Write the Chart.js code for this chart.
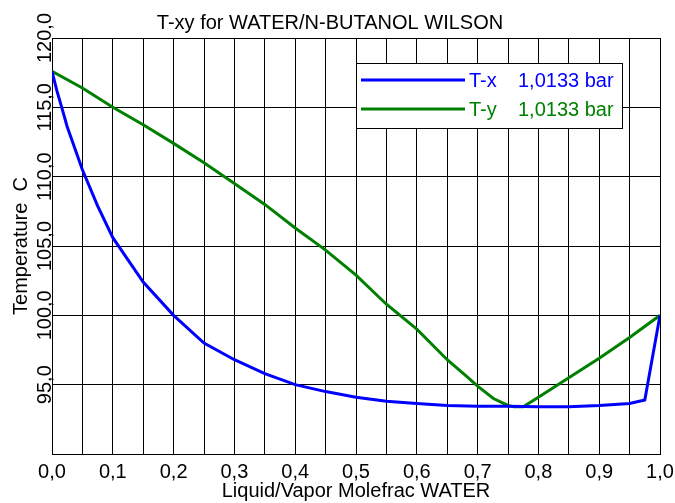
<!DOCTYPE html>
<html lang="en">
<head>
    <meta charset="UTF-8">
    <script src="https://cdn.jsdelivr.net/npm/chart.js"></script>
    <title>T-xy WATER/N-BUTANOL</title>
    <style>
        html, body { margin: 0; padding: 0; background: #fff; }
        #wrap { width: 675px; height: 503px; }
    </style>
</head>
<body>
    <div id="wrap"><canvas id="txyChart"></canvas></div>

    <script>
        // T-x curve (liquid)
        const liqWater = [0, 0.008, 0.016, 0.025, 0.05, 0.075, 0.1, 0.15, 0.2, 0.25, 0.3, 0.35, 0.4, 0.45, 0.5, 0.55, 0.6, 0.65, 0.7, 0.75, 0.8, 0.85, 0.9, 0.95, 0.975, 1.0];
        const liqTemp = [117.6, 116.2, 115.0, 113.6, 110.5, 107.9, 105.6, 102.4, 100.0, 98.0, 96.8, 95.8, 95.0, 94.5, 94.1, 93.8, 93.65, 93.5, 93.45, 93.45, 93.4, 93.4, 93.5, 93.65, 93.9, 100.0];

        // T-y curve (vapor)
        const vapWater = [0, 0.05, 0.1, 0.15, 0.2, 0.25, 0.3, 0.35, 0.4, 0.45, 0.5, 0.55, 0.6, 0.65, 0.682, 0.7, 0.726, 0.75, 0.76, 0.775, 0.8, 0.85, 0.9, 0.95, 1.0];
        const vapTemp = [117.6, 116.4, 115.0, 113.75, 112.4, 111.0, 109.5, 108.0, 106.3, 104.7, 102.9, 100.8, 99.0, 96.8, 95.6, 94.9, 94.0, 93.5, 93.4, 93.4, 94.1, 95.5, 96.9, 98.4, 100.0];

        const seriesNames = ['T-x', 'T-y'];
        const pressureLabel = '1,0133 bar';
        const yTickValues = [95, 100, 105, 110, 115, 120];

        const FONT = 'Arial, "Liberation Sans", sans-serif';

        function toPoints(xs, ys) {
            return xs.map((x, i) => ({ x: x, y: ys[i] }));
        }

        function fmt(v) {
            return v.toFixed(1).replace('.', ',');
        }

        // rotated y labels + legend box drawn on top
        const txyDecor = {
            id: 'txyDecor',
            afterDraw(chart) {
                const ctx = chart.ctx;
                const yScale = chart.scales.y;
                const area = chart.chartArea;

                ctx.save();
                ctx.fillStyle = '#000';
                ctx.font = '20px ' + FONT;
                ctx.textAlign = 'center';
                ctx.textBaseline = 'alphabetic';
                yTickValues.forEach(v => {
                    const py = yScale.getPixelForValue(v);
                    ctx.save();
                    ctx.translate(area.left - 1, py);
                    ctx.rotate(-Math.PI / 2);
                    ctx.fillText(fmt(v), 0, 0);
                    ctx.restore();
                });

                // legend
                const bx = 356, by = 63, bw = 266, bh = 65;
                ctx.fillStyle = '#fff';
                ctx.fillRect(bx, by, bw, bh);
                ctx.strokeStyle = '#000';
                ctx.lineWidth = 1;
                ctx.strokeRect(bx + 0.5, by + 0.5, bw, bh);

                ctx.textAlign = 'left';
                ctx.textBaseline = 'middle';
                chart.data.datasets.forEach((ds, i) => {
                    const ly = by + 17 + i * 29;
                    ctx.strokeStyle = ds.borderColor;
                    ctx.lineWidth = 3;
                    ctx.beginPath();
                    ctx.moveTo(bx + 5, ly);
                    ctx.lineTo(bx + 109, ly);
                    ctx.stroke();
                    ctx.fillStyle = ds.borderColor;
                    ctx.fillText(seriesNames[i], bx + 113, ly + 1);
                    ctx.fillText(pressureLabel, bx + 162, ly + 1);
                });
                ctx.restore();
            }
        };

        const ctxTxy = document.getElementById('txyChart').getContext('2d');

        const txyChart = new Chart(ctxTxy, {
            type: 'scatter',
            data: {
                datasets: [{
                    label: seriesNames[0],
                    data: toPoints(liqWater, liqTemp),
                    showLine: true,
                    borderColor: 'rgb(0, 0, 255)',
                    backgroundColor: 'rgb(0, 0, 255)',
                    borderWidth: 3,
                    pointRadius: 0,
                    tension: 0
                }, {
                    label: seriesNames[1],
                    data: toPoints(vapWater, vapTemp),
                    showLine: true,
                    borderColor: 'rgb(0, 128, 0)',
                    backgroundColor: 'rgb(0, 128, 0)',
                    borderWidth: 3,
                    pointRadius: 0,
                    tension: 0
                }]
            },
            options: {
                responsive: true,
                maintainAspectRatio: false,
                animation: false,
                layout: {
                    padding: { left: 0, right: 15, top: 0, bottom: 0 }
                },
                plugins: {
                    legend: { display: false },
                    tooltip: { enabled: false },
                    title: {
                        display: true,
                        text: 'T-xy for WATER/N-BUTANOL WILSON',
                        color: '#000',
                        font: { family: FONT, size: 20, weight: 'normal' },
                        padding: { top: 11, bottom: 3 }
                    }
                },
                scales: {
                    x: {
                        type: 'linear',
                        min: 0,
                        max: 1,
                        afterFit(scale) {
                            scale.height = 49;
                            scale.paddingLeft = 0;
                            scale.paddingRight = 0;
                        },
                        border: { display: true, color: '#000', width: 1 },
                        grid: { color: '#000', lineWidth: 1, drawTicks: false },
                        ticks: {
                            stepSize: 0.05,
                            autoSkip: false,
                            maxRotation: 0,
                            padding: 6,
                            color: '#000',
                            font: { family: FONT, size: 20 },
                            callback: v => (Math.round(v * 100) % 10 === 0 ? fmt(v) : '')
                        },
                        title: {
                            display: true,
                            text: 'Liquid/Vapor Molefrac WATER',
                            color: '#000',
                            font: { family: FONT, size: 20 },
                            padding: { top: 0, bottom: 0 }
                        }
                    },
                    y: {
                        min: 90,
                        max: 120,
                        afterFit(scale) { scale.width = 52; },
                        border: { display: true, color: '#000', width: 1 },
                        grid: { color: '#000', lineWidth: 1, drawTicks: false },
                        ticks: { display: false, stepSize: 5 },
                        title: {
                            display: true,
                            text: 'Temperature  C',
                            color: '#000',
                            font: { family: FONT, size: 20 },
                            padding: { top: 9, bottom: 0 }
                        }
                    }
                }
            },
            plugins: [txyDecor]
        });
    </script>
</body>
</html>
